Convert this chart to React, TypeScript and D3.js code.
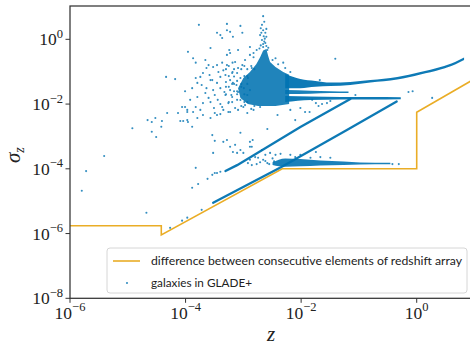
import React from "react";
import * as d3 from "d3";

const WIDTH = 470;
const HEIGHT = 345;
const PLOT = { left: 70, right: 471, top: 6, bottom: 298.3 };
const Z_LIMITS: [number, number] = [1e-6, 8.7];
const SIGMA_LIMITS: [number, number] = [1e-8, 10.7];

const BLUE = "#0173B2";
const ORANGE = "#E69F00";
const SERIF = "'Liberation Serif', 'DejaVu Serif', serif";
const SANS = "Lato, 'Open Sans', 'DejaVu Sans', sans-serif";

const xTickValues = [1e-6, 1e-4, 1e-2, 1];
const xTickExponents = ["−6", "−4", "−2", "0"];
const yTickValues = [1, 1e-2, 1e-4, 1e-6, 1e-8];
const yTickExponents = ["0", "−2", "−4", "−6", "−8"];

const legendLabels = [
  "difference between consecutive elements of redshift array",
  "galaxies in GLADE+",
];

// spacing of the redshift grid: constant, logarithmic, constant, logarithmic
const gridZ = [1e-6, 3.8e-5, 3.8e-5, 4.7e-3, 1.0, 1.0, 8.7];
const gridDz = [1.75e-6, 1.75e-6, 9.1e-7, 1.0e-4, 1.0e-4, 5.6e-3, 5.2e-2];

// densest part of the catalogue, outlined as a closed region [z, sigma_z]
const coreOutline: [number, number][] = [
  [8.1e-4, 3.1e-2], [1.0e-3, 6.4e-2], [1.3e-3, 9.8e-2], [1.67e-3, 0.17],
  [1.95e-3, 0.28], [2.2e-3, 0.45], [2.5e-3, 0.5], [2.7e-3, 0.3],
  [2.9e-3, 0.2], [3.6e-3, 0.14], [4.9e-3, 9.8e-2], [6.2e-3, 8.0e-2],
  [6.2e-3, 1.0e-2], [3.6e-3, 8.7e-3], [1.8e-3, 8.7e-3], [1.2e-3, 1.0e-2],
  [8.9e-4, 1.55e-2],
];

// dense horizontal branches: z, lower and upper sigma_z edge
const upperBranchZ = [5.3e-3, 9.7e-3, 1.76e-2, 3.2e-2, 7.1e-2, 0.158, 0.46, 1.16, 2.58, 4.6, 6.6];
const upperBranchHi = [8.5e-2, 5.95e-2, 5.2e-2, 4.6e-2, 4.8e-2, 5.5e-2, 6.9e-2, 9.8e-2, 0.14, 0.2, 0.274];
const upperBranchLo = [3.1e-2, 3.1e-2, 3.4e-2, 3.6e-2, 3.9e-2, 4.6e-2, 5.7e-2, 8.2e-2, 0.117, 0.167, 0.23];

const middleBranchZ = [5.3e-3, 1.45e-2, 3.2e-2, 6.6e-2];
const middleBranchHi = [2.7e-2, 2.6e-2, 2.5e-2, 2.45e-2];
const middleBranchLo = [2.05e-2, 2.1e-2, 2.2e-2, 2.2e-2];

const flatBranchZ = [5.3e-3, 1.45e-2, 4.8e-2, 0.158, 0.53];
const flatBranchHi = [1.78e-2, 1.72e-2, 1.66e-2, 1.66e-2, 1.62e-2];
const flatBranchLo = [1.15e-2, 1.34e-2, 1.39e-2, 1.39e-2, 1.41e-2];

const lowBranchZ = [3.2e-3, 5.3e-3, 9.7e-3, 2.15e-2, 5.4e-2, 0.105, 0.35];
const lowBranchHi = [1.6e-4, 2.1e-4, 2.0e-4, 1.82e-4, 1.69e-4, 1.58e-4, 1.55e-4];
const lowBranchLo = [1.3e-4, 1.15e-4, 1.19e-4, 1.27e-4, 1.32e-4, 1.37e-4, 1.39e-4];

// the two diagonal sequences (sigma_z proportional to z)
const upperDiagonal: [number, number][] = [
  [4.9e-4, 8.5e-5], [7.8e-4, 1.3e-4], [9.7e-3, 1.96e-3], [7.1e-2, 1.44e-2],
];
const lowerDiagonal: [number, number][] = [
  [3.0e-4, 8.9e-6], [4.9e-3, 1.23e-4], [6.3e-2, 1.6e-3], [0.45, 1.2e-2],
];

// individual galaxies [z, sigma_z]
const sparseGalaxies: [number, number][] = [
  [1.6e-6, 2.1e-5], [1.9e-6, 8.5e-5], [3.9e-6, 2.5e-4], [1.2e-5, 1.8e-3],
  [2.1e-5, 4.4e-6], [5.4e-5, 1.5e-6], [8.7e-5, 2.5e-6], [1.07e-4, 3.1e-6],
  [1.9e-4, 5.4e-6], [1.3e-4, 2.6e-5], [1.65e-4, 3.4e-5], [1.5e-4, 1.07e-4],
  [3.5e-4, 7.4e-5], [2.4e-4, 4.9e-5], [2.9e-4, 6.5e-5], [3.2e-4, 7.4e-5],
  [4.0e-4, 8.1e-5],
];

const cloudGalaxies: [number, number][] = [
  [2.2e-5, 3.2e-3], [2.6e-5, 2.8e-3], [3.0e-5, 3.7e-3], [3.9e-5, 3.0e-3],
  [2.6e-5, 1.4e-3], [3.1e-5, 9.6e-4], [3.8e-5, 2.0e-3], [4.8e-5, 5.3e-3],
  [4.6e-5, 6.9e-2], [6.6e-5, 5.9e-2], [7.4e-5, 5.3e-3], [8.7e-5, 8.1e-3],
  [9.8e-5, 8.1e-3], [1.07e-4, 5.7e-3], [8.1e-5, 3.0e-3], [9.1e-5, 3.0e-3],
  [1.07e-4, 3.2e-3], [1.1e-4, 2.8e-3], [1.3e-4, 2.0e-3], [1.6e-4, 3.7e-3],
  [1.8e-4, 6.6e-3], [1.35e-4, 5.7e-3], [2.0e-4, 4.6e-3], [2.7e-4, 3.7e-3],
  [3.5e-4, 4.6e-3], [4.0e-4, 4.9e-3], [4.5e-4, 6.6e-3], [9.8e-5, 2.5e-2],
  [1.3e-4, 3.1e-2], [1.6e-4, 4.5e-2], [1.8e-4, 6.9e-2], [2.0e-4, 9.1e-2],
  [1.5e-4, 6.4e-2], [2.3e-4, 0.13], [2.7e-4, 5.5e-2], [1.9e-4, 3.9e-2],
  [2.2e-4, 2.2e-2], [1.6e-4, 1.65e-2], [1.2e-4, 1.35e-2], [1.07e-4, 6.6e-3],
  [1.5e-4, 8.1e-3], [2.0e-4, 1.07e-2], [2.5e-4, 1.55e-2], [3.0e-4, 2.7e-2],
  [3.5e-4, 4.5e-2], [4.0e-4, 6.9e-2], [4.5e-4, 0.11], [5.2e-4, 0.16],
  [3.6e-4, 1.35e-2], [4.9e-4, 1.9e-2], [5.9e-4, 2.7e-2], [6.6e-4, 4.5e-2],
  [4.3e-4, 8.1e-3], [5.5e-4, 1.07e-2], [7.8e-4, 1.35e-2], [3.2e-4, 5.3e-3],
  [5.9e-4, 5.7e-3], [8.1e-4, 6.6e-3], [1.0e-3, 8.1e-3], [1.17e-3, 5.3e-3],
  [1.5e-3, 6.6e-3], [1.95e-3, 8.1e-3], [4.9e-4, 7.9e-2], [6.5e-4, 9.8e-2],
  [8.1e-4, 0.13], [8.9e-4, 6.4e-2], [7.6e-4, 3.9e-2], [1.02e-3, 3.1e-2],
  [5.0e-4, 4.8e-2], [6.2e-4, 1.9e-2], [8.9e-4, 1.34e-2], [1.17e-3, 1.9e-2],
  [4.0e-4, 3.1e-2], [3.2e-4, 1.9e-2], [2.9e-4, 5.5e-2], [3.7e-4, 9.8e-2],
  [7.2e-4, 0.2], [9.6e-4, 0.16], [1.2e-3, 6.4e-2], [1.4e-3, 0.13],
  [1.07e-3, 9.3e-3], [7.2e-4, 7.6e-3], [5.5e-4, 5.7e-3], [4.0e-4, 1.0e-2],
  [2.7e-4, 1.15e-2], [3.1e-4, 7.6e-3], [2.3e-4, 3.1e-2], [2.6e-4, 7.9e-2],
  [5.9e-4, 5.5e-2], [4.7e-4, 2.35e-2], [8.1e-4, 2.35e-2], [1.3e-3, 2.7e-2],
  [5.0e-4, 0.12], [5.6e-4, 7.3e-2], [6.4e-4, 4.2e-2], [6.9e-4, 2.5e-2],
  [7.8e-4, 9.1e-2], [9.2e-4, 0.12], [1.04e-3, 7.3e-2], [1.17e-3, 4.2e-2],
  [1.37e-3, 0.15], [1.55e-3, 0.12], [5.0e-4, 2.0e-2], [5.6e-4, 3.4e-2],
  [6.4e-4, 1.15e-2], [6.9e-4, 7.1e-2], [7.8e-4, 5.2e-2], [9.2e-4, 3.4e-2],
  [1.04e-3, 2.0e-2], [1.17e-3, 1.15e-2], [9.2e-4, 8.7e-3], [6.4e-4, 1.65e-2],
  [5.6e-4, 0.15], [6.9e-4, 0.12], [7.8e-4, 2.0e-2], [9.2e-4, 4.2e-2],
  [1.04e-3, 1.15e-2], [1.37e-3, 7.1e-3], [1.55e-3, 8.7e-3], [1.17e-3, 7.3e-2],
  [5.0e-4, 3.4e-2], [6.4e-4, 9.1e-2], [1.04e-3, 0.15], [1.17e-3, 0.12],
  [5.6e-4, 1.15e-2], [7.8e-4, 2.5e-2], [6.9e-4, 4.2e-2],
];

const spikeGalaxies: [number, number][] = [
  [2.2e-3, 5.2], [2.1e-3, 2.8], [2.2e-3, 1.9], [2.4e-3, 1.6], [1.95e-3, 1.35],
  [2.1e-3, 0.95], [2.4e-3, 0.77], [2.2e-3, 0.58], [2.6e-3, 0.47], [1.7e-3, 0.47],
  [1.5e-3, 0.38], [1.3e-3, 0.33], [2.3e-3, 3.5], [2.0e-3, 2.2], [2.5e-3, 1.2],
  [2.3e-3, 0.85], [2.0e-3, 0.65], [2.5e-3, 0.62], [2.2e-3, 0.72], [2.35e-3, 1.05],
  [2.05e-3, 1.6], [2.5e-3, 2.1], [2.25e-3, 1.25], [1.9e-3, 0.52], [2.7e-3, 0.55],
  [8.9e-4, 2.6], [9.6e-4, 1.6], [6.6e-4, 1.2],
  [8.1e-4, 0.47], [5.9e-4, 0.38], [1.07e-3, 0.23], [4.3e-4, 0.19], [3.5e-4, 0.16],
  [6.5e-4, 0.19], [1.5e-3, 0.28], [1.3e-3, 0.58], [1.7e-4, 2.8], [5.2e-4, 3.0],
  [3.5e-4, 1.6], [4.0e-4, 1.35], [4.3e-4, 1.1], [5.2e-4, 1.9], [5.9e-4, 1.7],
  [5.7e-4, 0.47], [5.2e-4, 0.33], [2.7e-4, 0.54], [1.1e-4, 0.41], [1.35e-4, 0.26],
  [1.5e-4, 0.19], [2.2e-4, 0.23], [2.5e-4, 0.16], [3.0e-4, 0.14], [3.2e-3, 0.23],
  [4.0e-3, 0.17], [5.3e-3, 0.13], [6.5e-3, 9.8e-2], [3.6e-3, 0.26], [4.9e-3, 0.19],
];

const middleGalaxies: [number, number][] = [
  [2.9e-4, 1.1e-3], [5.2e-4, 7.8e-4], [3.0e-4, 3.1e-4], [5.9e-4, 4.8e-4],
  [6.6e-4, 3.3e-4], [3.2e-4, 7.3e-4], [4.5e-4, 6.8e-4], [7.2e-4, 5.5e-4],
  [7.8e-4, 3.1e-4], [8.9e-4, 3.8e-4], [1.3e-3, 6.8e-4], [1.4e-3, 4.8e-4],
  [1.0e-3, 3.1e-4], [8.9e-4, 1.3e-3], [2.6e-3, 1.7e-3], [3.9e-3, 4.6e-3],
  [7.9e-3, 3.2e-3], [1.8e-2, 3.3e-4], [1.3e-3, 4.8e-4], [1.45e-3, 7.8e-4],
];

const funnelGalaxies: [number, number][] = [
  [1.55e-2, 1.35e-2], [1.8e-2, 1.07e-2], [2.0e-2, 8.7e-3], [2.3e-2, 1.0e-2],
  [2.8e-2, 1.07e-2], [3.2e-2, 1.25e-2], [1.4e-2, 5.7e-3], [2.1e-2, 5.5e-2],
  [3.9e-2, 0.25], [8.7e-2, 1.9e-2], [0.72, 2.35e-2], [0.85, 2.5e-2],
  [1.85, 1.55e-2], [0.38, 1.4e-4], [0.49, 1.4e-4], [9.7e-3, 7.6e-3],
  [6.5e-3, 6.6e-3], [1.17e-2, 5.7e-3],
];

const lowBranchGalaxies: [number, number][] = [
  [1.6e-3, 2.3e-4], [1.8e-3, 2.2e-4], [1.95e-3, 1.6e-4], [1.3e-3, 1.9e-4],
  [2.4e-3, 2.7e-4], [2.9e-3, 3.1e-4], [3.6e-3, 2.7e-4], [2.1e-3, 3.8e-4],
  [4.4e-3, 2.9e-4], [6.5e-3, 2.7e-4], [7.9e-3, 2.3e-4], [1.2e-3, 1.5e-4],
  [1.4e-3, 1.3e-4], [9.7e-3, 2.7e-4], [1.45e-2, 2.2e-4], [2.15e-2, 2.3e-4],
  [3.2e-2, 2.2e-4], [2.2e-3, 1.9e-4], [2.6e-3, 1.5e-4], [3.2e-3, 2.1e-4],
  [1.7e-3, 1.4e-4], [2.4e-3, 1.75e-4], [2.8e-3, 1.4e-4], [3.4e-3, 1.7e-4],
];

const galaxyGroups = [
  sparseGalaxies,
  cloudGalaxies,
  spikeGalaxies,
  middleGalaxies,
  funnelGalaxies,
  lowBranchGalaxies,
];

export default function App() {
  const x = d3.scaleLog().domain(Z_LIMITS).range([PLOT.left, PLOT.right]);
  const y = d3.scaleLog().domain(SIGMA_LIMITS).range([PLOT.bottom, PLOT.top]);

  const branch = (zs: number[], lo: number[], hi: number[]) =>
    d3
      .area<number>()
      .x((_, i) => x(zs[i]))
      .y0((_, i) => y(lo[i]))
      .y1((_, i) => y(hi[i]))
      .curve(d3.curveMonotoneX)(zs) as string;

  const pairLine = d3
    .line<[number, number]>()
    .x((d) => x(d[0]))
    .y((d) => y(d[1]));

  const corePath = d3
    .line<[number, number]>()
    .x((d) => x(d[0]))
    .y((d) => y(d[1]))
    .curve(d3.curveLinearClosed)(coreOutline) as string;

  const gridPath = d3
    .line<number>()
    .x((_, i) => x(gridZ[i]))
    .y((_, i) => y(gridDz[i]))(gridZ) as string;

  const plotW = PLOT.right - PLOT.left;
  const plotH = PLOT.bottom - PLOT.top;

  return (
    <svg
      width={WIDTH}
      height={HEIGHT}
      viewBox={`0 0 ${WIDTH} ${HEIGHT}`}
      style={{ position: "absolute", left: 0, top: 0, background: "#fff" }}
    >
      <defs>
        <clipPath id="plot-area">
          <rect x={PLOT.left} y={PLOT.top} width={plotW} height={plotH} />
        </clipPath>
      </defs>
      <rect x={0} y={0} width={WIDTH} height={HEIGHT} fill="#fff" />

      <g clipPath="url(#plot-area)">
        <path d={gridPath} fill="none" stroke={ORANGE} strokeWidth={1.6} opacity={0.85} />

        <g fill={BLUE}>
          <path d={corePath} opacity={0.88} />
          <path d={branch(upperBranchZ, upperBranchLo, upperBranchHi)} opacity={0.95} />
          <path d={branch(middleBranchZ, middleBranchLo, middleBranchHi)} opacity={0.9} />
          <path d={branch(flatBranchZ, flatBranchLo, flatBranchHi)} opacity={0.95} />
          <path d={branch(lowBranchZ, lowBranchLo, lowBranchHi)} opacity={0.9} />
        </g>
        <g fill="none" stroke={BLUE} strokeWidth={2.3} strokeLinecap="round" opacity={0.95}>
          <path d={pairLine(upperDiagonal) as string} />
          <path d={pairLine(lowerDiagonal) as string} />
        </g>
        <g fill={BLUE} opacity={0.8}>
          {galaxyGroups.map((group, gi) =>
            group.map((d, i) => (
              <circle key={`${gi}-${i}`} cx={x(d[0])} cy={y(d[1])} r={1.05} />
            ))
          )}
        </g>
      </g>

      {/* frame */}
      <rect
        x={PLOT.left}
        y={PLOT.top}
        width={plotW}
        height={plotH}
        fill="none"
        stroke="#333"
        strokeWidth={1.25}
      />

      {/* axes */}
      <g fontFamily={SERIF} fill="#222">
        {xTickValues.map((v, i) => (
          <g key={`xt-${i}`}>
            <line x1={x(v)} x2={x(v)} y1={PLOT.bottom} y2={PLOT.bottom + 4.5} stroke="#333" strokeWidth={1} />
            <text x={x(v)} y={319} textAnchor="middle" fontSize={17.5}>
              10
              <tspan dy={-8} fontSize={12.5}>
                {xTickExponents[i]}
              </tspan>
            </text>
          </g>
        ))}
        {yTickValues.map((v, i) => (
          <g key={`yt-${i}`}>
            <line x1={PLOT.left - 4.5} x2={PLOT.left} y1={y(v)} y2={y(v)} stroke="#333" strokeWidth={1} />
            <text x={63} y={y(v) + 6} textAnchor="end" fontSize={17.5}>
              10
              <tspan dy={-7.5} fontSize={12.5}>
                {yTickExponents[i]}
              </tspan>
            </text>
          </g>
        ))}
        <text x={271} y={341} textAnchor="middle" fontSize={21} fontStyle="italic">
          z
        </text>
        <text transform="translate(20,163) rotate(-90)" fontSize={21} fontStyle="italic">
          σ
          <tspan dy={4} fontSize={14}>
            z
          </tspan>
        </text>
      </g>

      {/* legend */}
      <g>
        <rect x={107} y={248} width={360} height={45} rx={3} fill="#fff" fillOpacity={0.8} stroke="#d6d6d6" strokeWidth={1} />
        <line x1={113} x2={140} y1={261} y2={261} stroke={ORANGE} strokeWidth={1.6} opacity={0.85} />
        <circle cx={127} cy={283} r={1.05} fill={BLUE} opacity={0.8} />
        <text x={151} y={265.3} fontFamily={SANS} fontSize={12} fill="#222" textLength={311} lengthAdjust="spacingAndGlyphs">
          {legendLabels[0]}
        </text>
        <text x={151} y={287.3} fontFamily={SANS} fontSize={12} fill="#222" textLength={101} lengthAdjust="spacingAndGlyphs">
          {legendLabels[1]}
        </text>
      </g>
    </svg>
  );
}
